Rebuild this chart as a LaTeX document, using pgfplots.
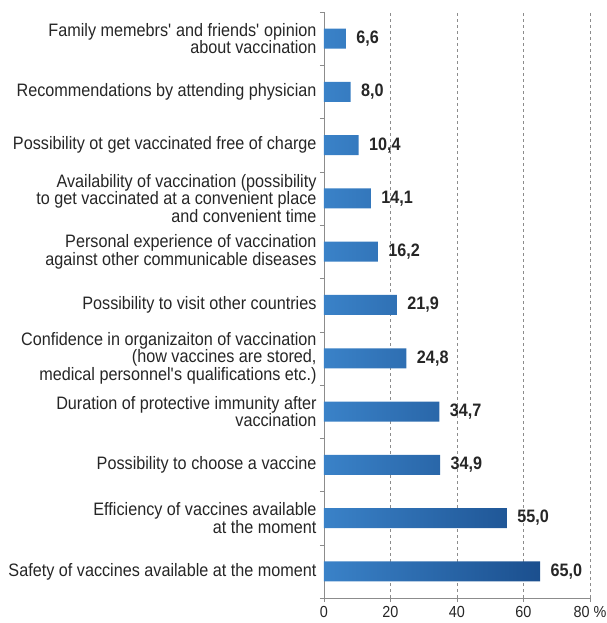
\documentclass[border=0pt]{standalone}
\usepackage{pgfplots}
\pgfplotsset{compat=1.18}
\usepackage{fontspec}
\setmainfont{Liberation Sans}
\newfontfamily\narrowfont{Liberation Sans}[FakeStretch=0.9]
\definecolor{barL}{HTML}{3A82C8}
\definecolor{barR}{HTML}{1B4F8E}
\definecolor{gridc}{HTML}{8C8C8C}
\begin{document}
\begin{tikzpicture}
\begin{axis}[
    scale only axis,
    width=266pt, height=586pt,
    xmin=0, xmax=80,
    ymin=-0.5, ymax=10.5,
    xbar, bar width=20pt,
    axis x line*=bottom, axis y line*=left,
    axis line style={gridc},
    xtick={0,20,40,60,80},
    xticklabels={0,20,40,60,80 \%},
    xticklabel style={font=\narrowfont\fontsize{16}{16}\selectfont, yshift=-1pt, text=black!85},
    ytick={0,...,10},
    yticklabels={
        {Safety of vaccines available at the moment},
        {Efficiency of vaccines available\\at the moment},
        {Possibility to choose a vaccine},
        {Duration of protective immunity after\\vaccination},
        {Confidence in organizaiton of vaccination\\(how vaccines are stored,\\medical personnel\textquotesingle s qualifications etc.)},
        {Possibility to visit other countries},
        {Personal experience of vaccination\\against other communicable diseases},
        {Availability of vaccination (possibility\\to get vaccinated at a convenient place\\and convenient time},
        {Possibility ot get vaccinated free of charge},
        {Recommendations by attending physician},
        {Family memebrs\textquotesingle\ and friends\textquotesingle\ opinion\\about vaccination}},
    yticklabel style={align=right, font=\narrowfont\fontsize{18}{17.5}\selectfont, text=black!85},
    minor ytick={-0.5,0.5,...,10.5},
    major y tick style={draw=none},
    minor y tick style={gridc},
    x tick style={gridc},
    tick align=outside,
    major tick length=4pt, minor tick length=4pt,
    xmajorgrids, grid style={dashed, gridc},
    /pgf/number format/assume math mode=true,
    nodes near coords={\pgfmathprintnumber[fixed,fixed zerofill,precision=1,use comma]{\pgfplotspointmeta}},
    nodes near coords style={font=\narrowfont\bfseries\fontsize{18}{18}\selectfont, text=black!85, anchor=west, xshift=7pt},
]
\addplot[xbar, draw=none, left color=barL, right color=barR]
    coordinates {(65.0,0) (55.0,1) (34.9,2) (34.7,3) (24.8,4) (21.9,5)
                 (16.2,6) (14.1,7) (10.4,8) (8.0,9) (6.6,10)};
\end{axis}
\pgfresetboundingbox
\path ([shift={(-324pt,-25pt)}]current axis.south west) rectangle ([shift={(17pt,12pt)}]current axis.north east);
\end{tikzpicture}
\end{document}
